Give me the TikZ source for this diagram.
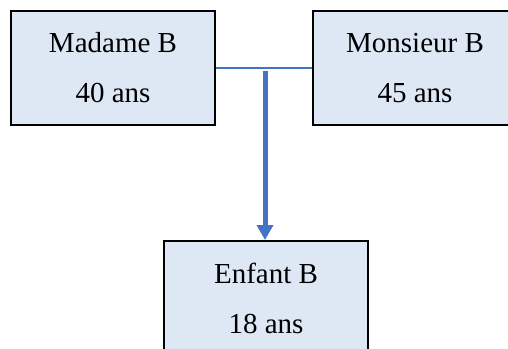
\documentclass[tikz,border=0pt]{standalone}
\usepackage{fontspec}
\setmainfont{Liberation Serif}
\usepackage{tikz}
\usetikzlibrary{arrows.meta}

\definecolor{boxfill}{HTML}{DEE8F5}
\definecolor{linkblue}{HTML}{4472C4}

\tikzset{
  person/.style={draw, line width=1pt, fill=boxfill, minimum width=102pt,
    minimum height=57pt, align=center, font=\fontsize{14.5}{25}\selectfont},
  union/.style={draw=linkblue, line width=1.1pt},
  filiation/.style={draw=linkblue, line width=2.5pt,
    -{Triangle[width=8pt,length=7.5pt]}}
}

\begin{document}
\begin{tikzpicture}[x=0.5pt,y=-0.5pt]
  \useasboundingbox (0,0) rectangle (508,348);
  \node [person](madame) at (113,68) {\rmfamily Madame B\\40 ans};
  \node [person](monsieur) at (415,68) {\rmfamily Monsieur B\\45 ans};
  \node [person](enfant) at (266,298) {\rmfamily Enfant B\\18 ans};
  \coordinate (couple) at (265,71);
  \draw [union] (madame.east)--(monsieur.west);
  \draw [filiation] (couple)--(couple|-enfant.north);
\end{tikzpicture}
\end{document}
